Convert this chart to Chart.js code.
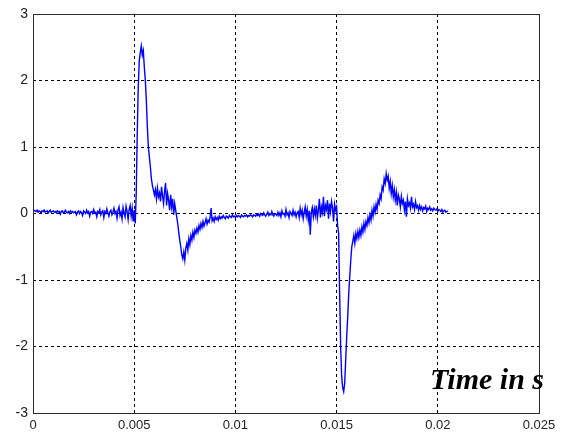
<!DOCTYPE html>
<html>
<head>
<meta charset="utf-8">
<script src="https://cdn.jsdelivr.net/npm/chart.js@4.4.1/dist/chart.umd.min.js"></script>
<style>
  html, body { margin: 0; padding: 0; background: #ffffff; }
  #wrap { width: 566px; height: 436px; position: relative; }
</style>
</head>
<body>
<div id="wrap"><canvas id="c" width="566" height="436"></canvas></div>
<script>
// Recorded voltage trace, one sample every 50 microseconds starting at t = 0
const sampleInterval = 0.00005;
const signal = [
  0.03, 0.05,
  0.04,0.03,0.05,0.02,0.04,0.03,0.01,0.04,0.03,0.05,0.02,0.03,0.04,0.01,0.03,0.05,0.02,0.03,0.04,0.02,
  0.03,0.01,0.04,0.02,0.03,-0.01,0.03,0.04,0.01,0.02,0.05,0.02,0.01,0.03,0.00,0.04,0.02,0.03,0.01,0.02,
  0.03,-0.02,0.02,0.04,0.00,0.03,0.01,-0.03,0.04,0.02,0.00,0.05,0.01,0.03,-0.04,0.02,0.03,0.00,0.06,0.01,
  0.02,-0.05,0.03,0.01,0.06,-0.02,0.02,0.04,-0.06,0.03,0.00,0.07,0.01,-0.04,0.03,0.05,-0.02,0.02,0.08,0.00,
  0.03,-0.07,0.05,0.10,-0.03,0.02,-0.08,0.09,0.01,-0.05,0.11,0.03,-0.09,0.06,0.12,-0.04,0.08,-0.12,0.05,-0.15,
  0.30,1.20,1.90,2.30,2.42,2.52,2.38,2.45,2.20,2.00,1.70,1.30,1.00,0.85,0.70,0.52,0.42,0.35,0.28,0.36,
  0.22,0.38,0.25,0.31,0.18,0.40,0.27,0.15,0.33,0.46,0.12,0.30,0.20,0.05,0.28,0.10,0.22,-0.02,0.15,0.05,
  -0.05,-0.15,-0.28,-0.40,-0.50,-0.62,-0.68,-0.58,-0.70,-0.52,-0.45,-0.55,-0.38,-0.47,-0.33,-0.40,-0.28,-0.36,-0.25,-0.30,
  -0.22,-0.28,-0.18,-0.24,-0.15,-0.21,-0.12,-0.19,-0.14,-0.08,-0.16,-0.10,-0.13,-0.06,0.08,-0.11,-0.07,-0.12,-0.05,-0.09,
  -0.06,-0.10,-0.04,-0.08,-0.05,-0.07,-0.03,-0.06,-0.08,-0.04,-0.05,-0.07,-0.03,-0.05,-0.06,-0.02,-0.05,-0.04,-0.06,-0.03,
  -0.05,-0.03,-0.04,-0.06,-0.02,-0.04,-0.05,-0.03,-0.04,-0.02,-0.05,-0.03,-0.04,-0.02,-0.03,-0.05,-0.02,-0.03,-0.04,-0.01,
  -0.03,-0.01,-0.04,0.00,-0.02,-0.03,0.01,-0.02,-0.04,-0.01,0.02,-0.03,-0.01,-0.02,0.03,-0.02,-0.04,0.00,-0.01,-0.03,
  0.02,-0.03,0.01,-0.05,0.04,-0.01,0.00,-0.04,0.06,-0.02,0.01,-0.06,0.03,0.00,-0.03,0.05,-0.02,0.02,-0.05,0.01,
  0.03,-0.06,0.08,-0.02,0.05,-0.08,0.02,0.10,-0.04,0.06,-0.10,0.04,-0.32,0.02,0.09,-0.05,0.07,-0.03,0.12,-0.07,
  0.05,0.22,-0.06,0.10,0.02,0.25,-0.04,0.12,0.06,0.20,-0.08,0.15,0.03,0.18,0.08,-0.12,0.14,0.05,0.10,-0.18,
  -0.30,-1.20,-2.00,-2.45,-2.62,-2.68,-2.55,-2.20,-1.85,-1.55,-1.20,-0.95,-0.70,-0.50,-0.42,-0.33,-0.45,-0.30,-0.38,-0.27,
  -0.36,-0.25,-0.33,-0.20,-0.28,-0.15,-0.24,-0.12,-0.18,-0.06,-0.14,-0.02,-0.10,0.05,-0.04,0.10,0.02,0.14,0.06,0.20,
  0.15,0.28,0.22,0.40,0.35,0.52,0.45,0.60,0.50,0.56,0.38,0.48,0.30,0.42,0.25,0.36,0.20,0.32,0.12,0.28,
  0.22,0.10,0.26,0.15,0.20,0.05,0.18,-0.05,0.22,0.12,0.16,0.08,0.25,0.10,0.14,0.06,0.18,0.09,0.12,0.05,
  0.12,0.06,0.10,0.04,0.09,0.07,0.11,0.03,0.08,0.06,0.10,0.05,0.07,0.04,0.08,0.06,0.05,0.07,0.03,0.06,
  0.05,0.03,0.06,0.02,0.04,0.05,0.02,0.03,0.04
];

// Axis ticks
const xTickValues = [0, 0.005, 0.01, 0.015, 0.02, 0.025];
const xTickLabels = ['0', '0.005', '0.01', '0.015', '0.02', '0.025'];
const yTickValues = [-3, -2, -1, 0, 1, 2, 3];
const yTickLabels = ['-3', '-2', '-1', '0', '1', '2', '3'];
const axisLabel = 'Time in s';

const points = signal.map((v, i) => ({ x: i * sampleInterval, y: v }));

// Solid frame around the plotting area plus the in-plot axis caption
const framePlugin = {
  id: 'frame',
  afterDraw(chart) {
    const { ctx, chartArea: a } = chart;
    ctx.save();
    ctx.strokeStyle = '#2a2a2a';
    ctx.lineWidth = 1;
    ctx.setLineDash([]);
    ctx.strokeRect(Math.round(a.left) + 0.5, Math.round(a.top) + 0.5,
                   Math.round(a.right - a.left), Math.round(a.bottom - a.top));
    ctx.fillStyle = '#000000';
    ctx.font = 'italic bold 30px "Liberation Serif", "Times New Roman", serif';
    ctx.textAlign = 'right';
    ctx.textBaseline = 'alphabetic';
    ctx.fillText(axisLabel, a.right + 5, a.bottom - 24);
    ctx.restore();
  }
};

new Chart(document.getElementById('c'), {
  type: 'scatter',
  data: {
    datasets: [{
      data: points,
      showLine: true,
      borderColor: '#0000ff',
      borderWidth: 1.4,
      pointRadius: 0,
      tension: 0
    }]
  },
  options: {
    responsive: false,
    animation: false,
    events: [],
    layout: { padding: { top: 14, right: 27, left: 0, bottom: 0 } },
    plugins: { legend: { display: false }, tooltip: { enabled: false } },
    scales: {
      x: {
        type: 'linear',
        min: 0,
        max: 0.025,
        afterBuildTicks(scale) { scale.ticks = xTickValues.map(v => ({ value: v })); },
        afterFit(scale) { scale.height = 23; },
        ticks: {
          callback: (v, i) => xTickLabels[i],
          color: '#222222',
          font: { family: '"Liberation Sans", Arial, sans-serif', size: 13 },
          padding: 5,
          maxRotation: 0,
          autoSkip: false
        },
        grid: { color: '#000000', lineWidth: 1, drawTicks: false },
        border: { display: false, dash: [3, 3] }
      },
      y: {
        type: 'linear',
        min: -3,
        max: 3,
        afterBuildTicks(scale) { scale.ticks = yTickValues.map(v => ({ value: v })); },
        afterFit(scale) { scale.width = 33; },
        ticks: {
          callback: (v, i) => yTickLabels[i],
          color: '#222222',
          font: { family: '"Liberation Sans", Arial, sans-serif', size: 14 },
          padding: 5,
          autoSkip: false
        },
        grid: { color: '#000000', lineWidth: 1, drawTicks: false },
        border: { display: false, dash: [3, 3] }
      }
    }
  },
  plugins: [framePlugin]
});
</script>
</body>
</html>
